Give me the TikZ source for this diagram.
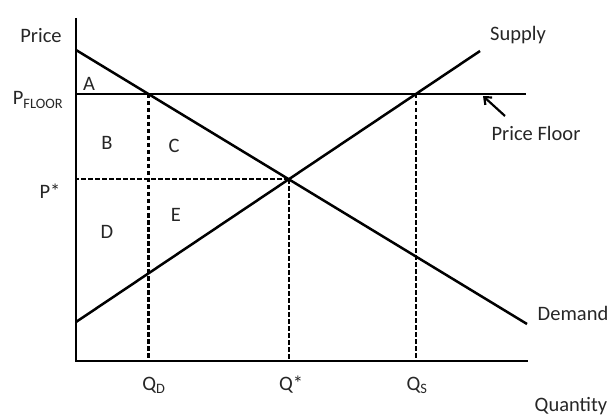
\documentclass[tikz,border=0pt]{standalone}
\usepackage{fontspec}
\setmainfont{Carlito}
\usetikzlibrary{arrows.meta}
\begin{document}
\begin{tikzpicture}[x=1pt,y=-1pt,line width=2.5pt,
  lbl/.style={inner sep=0pt,font=\fontsize{20.5}{24}\selectfont,text=black!85},
  dashln/.style={line width=2.3pt,dash pattern=on 4.5pt off 2.5pt},
  curve/.style={line width=2.5pt}]
\useasboundingbox (0,0) rectangle (615,419);
% axes
\coordinate (O) at (76,361);
\coordinate (Ytop) at (76,18);
\coordinate (Xend) at (528,361);
% curves
\coordinate (Dtop) at (76,50);
\coordinate (Dend) at (527,324);
\coordinate (Sbot) at (76,322);
\coordinate (Send) at (480,51);
\coordinate (Fl) at (76,94);
\coordinate (Fr) at (526,94);
\coordinate (Eq) at (intersection of Dtop--Dend and Sbot--Send);
\coordinate (QDp) at (intersection of Dtop--Dend and Fl--Fr);
\coordinate (QSp) at (intersection of Sbot--Send and Fl--Fr);
% dashed guides
\draw[dashln] (QDp) -- (QDp |- O);
\draw[dashln] (Eq) -- (Eq |- O);
\draw[dashln] (QSp) -- (QSp |- O);
\draw[dashln] (Eq) -- (Eq -| O);
% lines
\draw[curve] (Ytop) -- (O) -- (Xend);
\draw[curve] (Dtop) -- (Dend);
\draw[curve] (Sbot) -- (Send);
\draw[curve] (Fl) -- (Fr);
% arrow
\coordinate (ArT) at (505,116);
\coordinate (ArH) at (483,96);
\draw[line width=2.2pt,-{Straight Barb[length=6pt,width=10pt]}] (ArT) -- (ArH);
% labels
\node[lbl] (price) at (41,36) {Price};
\node[lbl] (pfloor) at (38,100) {P\textsubscript{FLOOR}};
\node[lbl] (pstar) at (50,191) {P*};
\node[lbl] (la) at (89,84) {A};
\node[lbl] (lb) at (107,143) {B};
\node[lbl] (lc) at (174,146) {C};
\node[lbl] (ld) at (107,232) {D};
\node[lbl] (le) at (176,215) {E};
\node[lbl] (supply) at (518,35) {Supply};
\node[lbl] (pfl) at (536,133) {Price Floor};
\node[lbl] (demand) at (573,313) {Demand};
\node[lbl] (qd) at (154,385) {Q\textsubscript{D}};
\node[lbl] (qs) at (291,385) {Q*};
\node[lbl] (qsup) at (417,385) {Q\textsubscript{S}};
\node[lbl] (quant) at (571,406) {Quantity};
\end{tikzpicture}
\end{document}
